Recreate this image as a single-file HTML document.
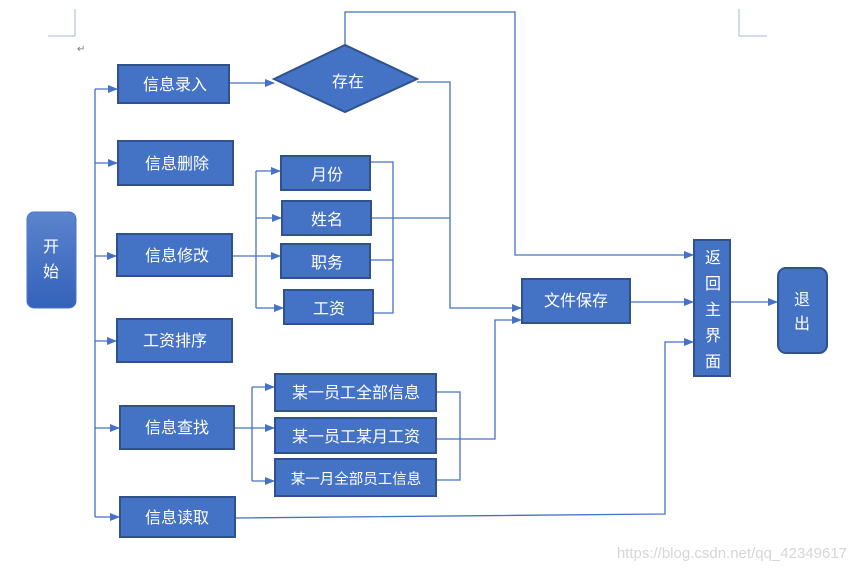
<!DOCTYPE html>
<html><head><meta charset="utf-8"><style>
body{margin:0;background:#fff;width:854px;height:572px;overflow:hidden}
svg text{font-family:"Liberation Sans","Noto Sans CJK SC",sans-serif}
</style></head><body>
<svg width="854" height="572" viewBox="0 0 854 572" xmlns="http://www.w3.org/2000/svg">
<defs>
<marker id="a" markerWidth="10" markerHeight="8" refX="9" refY="4" orient="auto" markerUnits="userSpaceOnUse"><path d="M0,0 L10,4 L0,8 z" fill="#4472c4"/></marker>
<linearGradient id="g" x1="0" y1="0" x2="0" y2="1"><stop offset="0" stop-color="#5b84cc"/><stop offset="1" stop-color="#3462ba"/></linearGradient>
</defs>
<g stroke="#a9b9d6" fill="none"><path d="M75 9V36H48"/><path d="M739 9V36H767"/></g>
<text x="77" y="52" font-size="10" fill="#777">↵</text>
<g stroke="#4472c4" stroke-width="1.3" fill="none">
<path d="M95 89V517"/>
<path d="M95 89H117" marker-end="url(#a)"/><path d="M95 163H117" marker-end="url(#a)"/><path d="M95 256H116" marker-end="url(#a)"/><path d="M95 341H116" marker-end="url(#a)"/><path d="M95 428H119" marker-end="url(#a)"/><path d="M95 517H119" marker-end="url(#a)"/>
<path d="M229 83H274" marker-end="url(#a)"/>
<path d="M345 45V12H515V255H693" marker-end="url(#a)"/>
<path d="M417 82H450V308H521" marker-end="url(#a)"/>
<path d="M232 256H280" marker-end="url(#a)"/>
<path d="M256 171V308"/>
<path d="M256 171H280" marker-end="url(#a)"/><path d="M256 218H281" marker-end="url(#a)"/><path d="M256 308H283" marker-end="url(#a)"/>
<path d="M370 162H393V313H373"/><path d="M371 218H450"/><path d="M370 260H393"/>
<path d="M234 428H274" marker-end="url(#a)"/>
<path d="M252 387V481"/><path d="M252 387H274" marker-end="url(#a)"/><path d="M252 481H274" marker-end="url(#a)"/>
<path d="M436 392H460V480H436"/><path d="M436 439H495V320H521" marker-end="url(#a)"/>
<path d="M630 302H693" marker-end="url(#a)"/>
<path d="M730 302H777" marker-end="url(#a)"/>
<path d="M235 518L665 514V342H693" marker-end="url(#a)"/>
</g>
<g fill="#4472c4" stroke="#2f528f" stroke-width="2">
<rect x="118" y="65" width="111" height="38"/>
<polygon points="274,79 345,45 417,79 345,112"/>
<rect x="118" y="141" width="115" height="44"/>
<rect x="281" y="156" width="89" height="34"/>
<rect x="282" y="201" width="89" height="34"/>
<rect x="117" y="234" width="115" height="42"/>
<rect x="281" y="244" width="89" height="34"/>
<rect x="284" y="290" width="89" height="34"/>
<rect x="117" y="319" width="115" height="43"/>
<rect x="275" y="374" width="161" height="37"/>
<rect x="275" y="418" width="161" height="35"/>
<rect x="275" y="459" width="161" height="37"/>
<rect x="120" y="406" width="114" height="43"/>
<rect x="120" y="497" width="115" height="40"/>
<rect x="522" y="279" width="108" height="44"/>
<rect x="694" y="240" width="36" height="136"/>
<rect x="778" y="268" width="49" height="85" rx="8"/>
</g>
<rect x="27" y="212" width="49" height="96" rx="7" fill="url(#g)" stroke="#4a76c8"/>
<g fill="#fff" font-size="16" text-anchor="middle">
<text x="175" y="90">信息录入</text>
<text x="348" y="87">存在</text>
<text x="177" y="169">信息删除</text>
<text x="327" y="180">月份</text>
<text x="327" y="225">姓名</text>
<text x="177" y="261">信息修改</text>
<text x="327" y="268">职务</text>
<text x="329" y="314">工资</text>
<text x="175" y="346">工资排序</text>
<text x="356" y="398">某一员工全部信息</text>
<text x="356" y="442">某一员工某月工资</text>
<text x="356" y="484" font-size="14.5">某一月全部员工信息</text>
<text x="177" y="433">信息查找</text>
<text x="177" y="523">信息读取</text>
<text x="576" y="306">文件保存</text>
<text x="51" y="252">开</text><text x="51" y="277">始</text>
<text x="713" y="263">返</text><text x="713" y="289">回</text><text x="713" y="315">主</text><text x="713" y="341">界</text><text x="713" y="367">面</text>
<text x="802" y="305">退</text><text x="802" y="329">出</text>
</g>
<text x="847" y="558" font-size="15" fill="#d6d6d6" text-anchor="end">https://blog.csdn.net/qq_42349617</text>
</svg>
</body></html>
